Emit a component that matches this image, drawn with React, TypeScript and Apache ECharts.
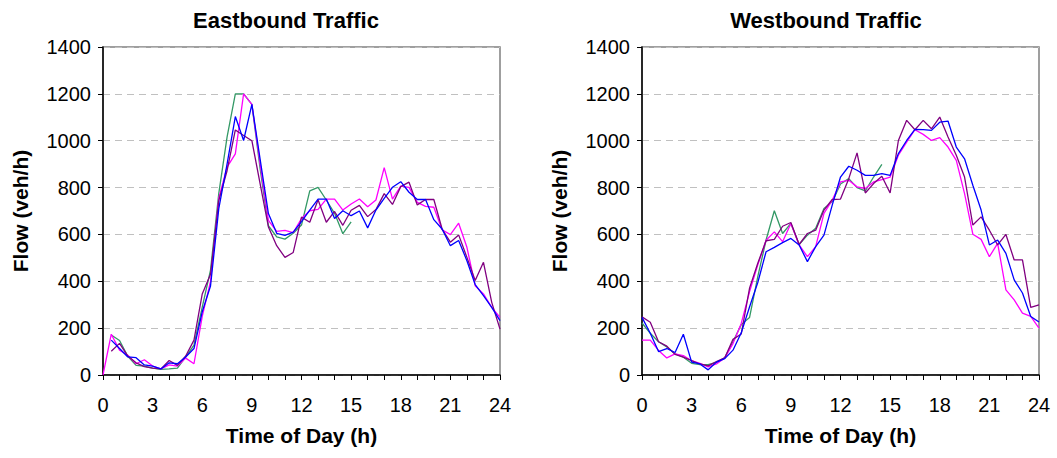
import React, { useEffect, useRef } from "react";
import * as echarts from "echarts";

const HOURS = [0, 0.5, 1, 1.5, 2, 2.5, 3, 3.5, 4, 4.5, 5, 5.5, 6, 6.5, 7, 7.5, 8, 8.5, 9, 9.5, 10, 10.5, 11, 11.5, 12, 12.5, 13, 13.5, 14, 14.5, 15, 15.5, 16, 16.5, 17, 17.5, 18, 18.5, 19, 19.5, 20, 20.5, 21, 21.5, 22, 22.5, 23, 23.5, 24];

const X_TICK_LABELS = ["0", "3", "6", "9", "12", "15", "18", "21", "24"];
const Y_TICK_LABELS = ["0", "200", "400", "600", "800", "1000", "1200", "1400"];

const TITLES = ["Eastbound Traffic", "Westbound Traffic"];
const X_NAME = "Time of Day (h)";
const Y_NAME = "Flow (veh/h)";

// Eastbound
const EB_GREEN = [null, 171, 147, 80, 41, 38, 29, 24, 26, 29, 77, 128, 290, 448, 775, 1015, 1200, 1200, 1155, 880, 637, 590, 580, 605, 640, 786, 801, 747, 690, 603, 654, null, null, null, null, null, null, null, null, null, null, null, null, null, null, null, null, null, null];
const EB_MAGENTA = [0, 174, 106, 84, 48, 65, 38, 26, 43, 38, 72, 48, 250, 400, 755, 887, 944, 1200, 1155, 900, 660, 613, 617, 608, 668, 701, 707, 751, 751, 704, 730, 751, 718, 747, 885, 751, 806, 801, 737, 720, 716, 620, 599, 648, 545, 381, 346, 289, 246];
const EB_BLUE = [null, 149, 113, 77, 74, 43, 38, 26, 52, 48, 77, 113, 270, 380, 710, 900, 1103, 1001, 1155, 920, 689, 605, 596, 610, 655, 704, 751, 751, 668, 701, 680, 700, 628, 704, 754, 801, 825, 780, 749, 749, 663, 623, 552, 574, 488, 386, 339, 289, 232];
const EB_PURPLE = [null, 101, 135, 81, 52, 36, 29, 26, 62, 41, 81, 149, 346, 430, 745, 872, 1046, 1022, 1000, 816, 632, 552, 502, 523, 674, 652, 748, 652, 698, 639, 703, 724, 676, 706, 774, 728, 804, 823, 726, 749, 749, 623, 567, 598, 502, 403, 481, 310, 196];

// Westbound
const WB_GREEN = [222, 178, 142, 120, 90, 76, 50, 44, 44, 54, 73, 142, 215, 245, 420, 576, 701, 604, 647, 557, 597, 626, 711, 739, 815, 838, 800, 786, 845, 899, null, null, null, null, null, null, null, null, null, null, null, null, null, null, null, null, null, null, null];
const WB_MAGENTA = [149, 149, 105, 73, 90, 83, 61, 50, 35, 47, 73, 134, 220, 355, 470, 575, 611, 569, 647, 555, 505, 548, 690, 746, 824, 831, 803, 796, 824, 834, 845, 938, 994, 1047, 1027, 1001, 1013, 973, 916, 774, 601, 579, 505, 562, 363, 321, 264, 250, 200];
const WB_BLUE = [246, 178, 100, 113, 96, 174, 55, 47, 22, 55, 70, 106, 180, 290, 395, 526, 545, 565, 583, 555, 484, 548, 597, 725, 845, 891, 874, 852, 852, 860, 852, 945, 1001, 1048, 1047, 1044, 1079, 1084, 973, 923, 810, 704, 555, 576, 519, 406, 350, 250, 226];
const WB_PURPLE = [248, 225, 142, 123, 88, 76, 61, 47, 39, 57, 73, 152, 175, 370, 477, 573, 579, 635, 651, 557, 604, 618, 704, 749, 751, 838, 948, 777, 817, 848, 777, 1001, 1087, 1047, 1087, 1051, 1101, 1016, 938, 845, 640, 675, 618, 555, 600, 491, 491, 289, 299];

const COLORS = ["#339966", "#FF00FF", "#0000FF", "#800080"];
const FONT = "Liberation Sans, Arial, sans-serif";

function pairs(vals: (number | null)[]) {
  return HOURS.map((h, i) => [h, vals[i] == null ? "-" : vals[i]]);
}

export default function App() {
  const ref = useRef<HTMLDivElement>(null);
  useEffect(() => {
    if (!ref.current) return;
    const chart = echarts.init(ref.current, undefined, { renderer: "svg" });
    const xMin = Number(X_TICK_LABELS[0]);
    const xMax = Number(X_TICK_LABELS[X_TICK_LABELS.length - 1]);
    const xStep = Number(X_TICK_LABELS[1]) - xMin;
    const yMin = Number(Y_TICK_LABELS[0]);
    const yMax = Number(Y_TICK_LABELS[Y_TICK_LABELS.length - 1]);
    const yStep = Number(Y_TICK_LABELS[1]) - yMin;

    const gridLefts = [103, 642];
    const titleCenters = [281, 821];
    const groups = [
      [EB_GREEN, EB_MAGENTA, EB_PURPLE, EB_BLUE],
      [WB_GREEN, WB_MAGENTA, WB_PURPLE, WB_BLUE],
    ];
    const colorOrder = [COLORS[0], COLORS[1], COLORS[3], COLORS[2]];

    const option: any = {
      animation: false,
      backgroundColor: "#fff",
      title: TITLES.map((t, i) => ({
        text: t,
        left: titleCenters[i],
        top: 4,
        textAlign: "center",
        textStyle: { fontSize: 22, fontWeight: "bold", color: "#000", fontFamily: FONT },
      })),
      grid: gridLefts.map((l) => ({
        left: l,
        top: 47,
        width: 397,
        height: 328,
        show: true,
        borderColor: "#808080",
        borderWidth: 1.5,
        backgroundColor: "transparent",
      })),
      xAxis: gridLefts.map((_, i) => ({
        type: "value",
        gridIndex: i,
        min: xMin,
        max: xMax,
        interval: xStep,
        axisLine: { show: true, onZero: false, lineStyle: { color: "#000", width: 1.5 } },
        axisTick: { show: true, length: 5, lineStyle: { color: "#000", width: 1 } },
        minorTick: { show: true, splitNumber: 3, length: 5, lineStyle: { color: "#000", width: 1 } },
        axisLabel: { color: "#000", fontSize: 20, fontFamily: FONT, margin: 20, formatter: (v: number) => String(v) },
        splitLine: { show: false },
        name: X_NAME,
        nameLocation: "middle",
        nameGap: 50,
        nameTextStyle: { color: "#000", fontSize: 21, fontWeight: "bold", fontFamily: FONT },
      })),
      yAxis: gridLefts.map((_, i) => ({
        type: "value",
        gridIndex: i,
        min: yMin,
        max: yMax,
        interval: yStep,
        axisLine: { show: true, lineStyle: { color: "#000", width: 1.5 } },
        axisTick: { show: true, length: 5, lineStyle: { color: "#000", width: 1 } },
        axisLabel: { color: "#000", fontSize: 20, fontFamily: FONT, margin: 12, formatter: (v: number) => String(v) },
        splitLine: { show: true, lineStyle: { color: "#c0c0c0", width: 1, type: [7, 5] } },
        name: Y_NAME,
        nameLocation: "middle",
        nameGap: 72,
        nameRotate: 90,
        nameTextStyle: { color: "#000", fontSize: 21, fontWeight: "bold", fontFamily: FONT },
      })),
      series: groups.flatMap((g, gi) =>
        g.map((vals, si) => ({
          type: "line",
          xAxisIndex: gi,
          yAxisIndex: gi,
          data: pairs(vals),
          showSymbol: false,
          symbol: "none",
          connectNulls: false,
          lineStyle: { color: colorOrder[si], width: 1.3 },
          itemStyle: { color: colorOrder[si] },
        }))
      ),
    };
    chart.setOption(option);
    return () => chart.dispose();
  }, []);
  return (
    <div
      ref={ref}
      style={{ position: "absolute", left: 0, top: 0, width: 1057, height: 458, background: "#fff" }}
    />
  );
}
